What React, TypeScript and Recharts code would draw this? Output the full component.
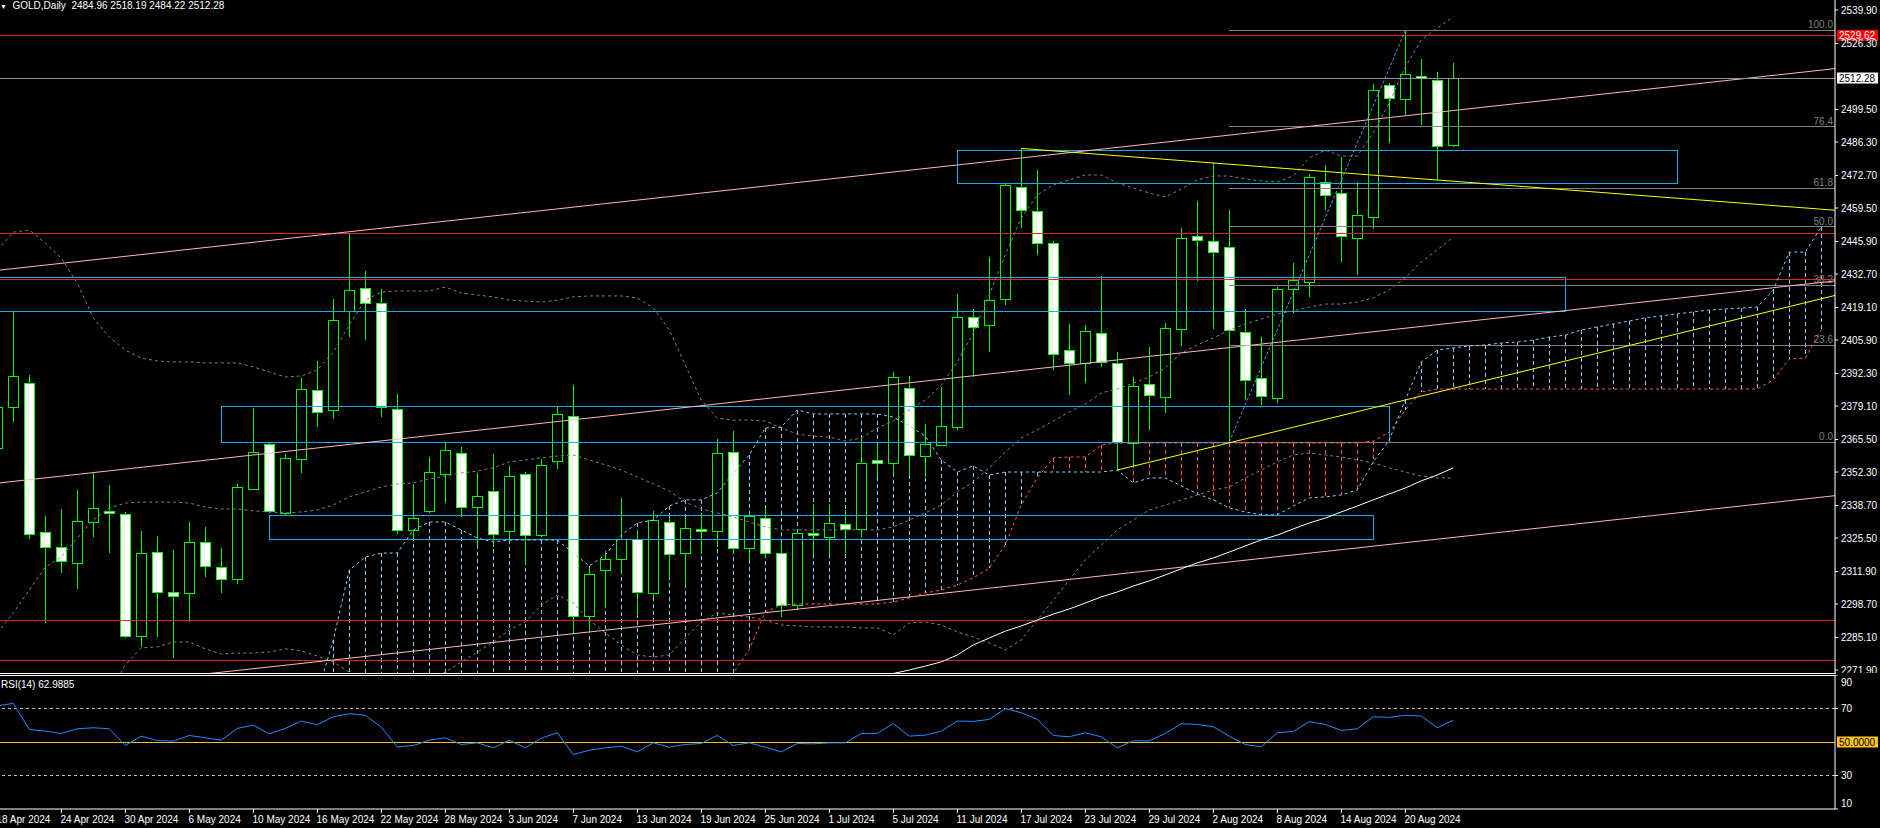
import React from "react";
import {
  ComposedChart,
  Bar,
  Line,
  XAxis,
  YAxis,
  ReferenceLine,
  ReferenceArea,
} from "recharts";

// ---- data (bar index 0 = 19 Apr 2024, first bar is 18 Apr = -1) ----
const FIRST_BAR = -1;
const LAST_BAR = 113; // cloud runs 26 bars ahead of the last candle

const opens = [
  2362.0, 2378.7, 2388.4, 2327.9, 2321.8, 2315.4, 2332.0, 2336.5, 2335.2, 2285.7,
  2319.8, 2303.6, 2303.2, 2323.9, 2313.7, 2308.9, 2345.4, 2363.7, 2335.7, 2357.6,
  2385.6, 2377.5, 2417.7, 2427.0, 2420.9, 2377.9, 2328.7, 2336.5, 2351.5, 2360.0,
  2338.1, 2344.6, 2328.3, 2351.5, 2326.7, 2356.8, 2375.0, 2293.8, 2312.5, 2316.9,
  2325.1, 2303.2, 2332.0, 2319.4, 2329.2, 2328.3, 2360.4, 2321.4, 2333.6, 2319.4,
  2298.3, 2327.5, 2325.9, 2331.2, 2329.2, 2357.2, 2356.0, 2386.4, 2358.8, 2363.3,
  2370.6, 2415.2, 2412.0, 2422.5, 2468.0, 2458.3, 2445.3, 2401.9, 2396.6, 2408.7,
  2396.6, 2364.1, 2388.0, 2382.8, 2410.4, 2448.1, 2446.1, 2443.7, 2409.2, 2390.5,
  2382.4, 2426.6, 2429.5, 2470.1, 2465.6, 2447.3, 2455.9, 2509.4, 2503.8, 2513.1,
  2511.5, 2484.96,
];
const highs = [
  2388.0, 2417.3, 2391.5, 2334.4, 2337.3, 2345.0, 2352.3, 2347.0, 2336.0, 2328.3,
  2326.3, 2320.6, 2332.0, 2329.9, 2321.4, 2347.4, 2378.3, 2364.0, 2359.6, 2390.5,
  2397.4, 2422.5, 2449.4, 2433.9, 2426.6, 2384.0, 2347.4, 2358.4, 2364.1, 2362.4,
  2351.9, 2359.6, 2354.8, 2352.3, 2357.6, 2378.7, 2387.6, 2313.7, 2320.2, 2341.8,
  2328.8, 2336.5, 2334.0, 2333.6, 2335.7, 2365.7, 2368.9, 2335.7, 2338.1, 2323.9,
  2328.0, 2339.3, 2339.3, 2336.9, 2366.1, 2363.7, 2392.9, 2391.3, 2371.8, 2386.8,
  2424.6, 2418.5, 2439.6, 2469.6, 2483.9, 2474.9, 2446.0, 2412.4, 2411.9, 2431.9,
  2401.0, 2390.9, 2403.1, 2412.8, 2451.4, 2462.3, 2477.8, 2458.7, 2418.5, 2407.1,
  2427.4, 2437.2, 2473.3, 2477.0, 2480.2, 2470.1, 2509.9, 2510.3, 2531.4, 2520.0,
  2514.7, 2518.19,
];
const lows = [
  2355.0, 2372.6, 2325.1, 2291.0, 2311.3, 2304.8, 2325.9, 2319.4, 2284.9, 2281.2,
  2285.3, 2276.8, 2291.4, 2309.7, 2303.2, 2306.8, 2345.0, 2335.7, 2334.9, 2351.9,
  2370.6, 2373.8, 2407.1, 2405.9, 2374.6, 2327.0, 2325.1, 2335.7, 2339.7, 2334.0,
  2322.7, 2321.9, 2324.3, 2315.0, 2325.9, 2353.5, 2286.9, 2287.0, 2297.5, 2311.3,
  2294.2, 2301.1, 2309.3, 2306.4, 2319.0, 2321.9, 2319.4, 2316.6, 2317.8, 2293.4,
  2296.3, 2318.6, 2318.6, 2319.4, 2325.9, 2350.3, 2351.9, 2350.3, 2350.3, 2363.0,
  2369.5, 2390.9, 2401.0, 2420.1, 2451.4, 2440.4, 2393.7, 2383.6, 2388.4, 2395.0,
  2353.1, 2354.3, 2369.4, 2376.3, 2403.5, 2429.9, 2410.4, 2364.5, 2381.5, 2379.5,
  2380.3, 2416.9, 2423.4, 2458.7, 2437.6, 2432.3, 2451.0, 2485.9, 2497.3, 2493.2,
  2470.9, 2484.22,
];
const closes = [
  2378.7, 2391.3, 2327.1, 2321.8, 2316.2, 2332.4, 2337.7, 2335.7, 2285.7, 2319.4,
  2303.6, 2301.9, 2323.9, 2314.1, 2308.9, 2346.2, 2360.4, 2336.5, 2358.0, 2386.0,
  2376.7, 2414.0, 2426.2, 2420.9, 2378.7, 2328.7, 2333.6, 2352.3, 2361.2, 2338.1,
  2342.6, 2327.1, 2350.7, 2326.7, 2355.1, 2375.9, 2293.8, 2310.9, 2316.9, 2325.1,
  2303.6, 2332.8, 2319.0, 2329.6, 2328.4, 2360.0, 2321.4, 2334.4, 2319.4, 2298.3,
  2327.5, 2326.7, 2331.6, 2329.2, 2356.0, 2356.0, 2390.9, 2359.2, 2363.7, 2371.0,
  2415.2, 2411.2, 2422.1, 2468.8, 2458.7, 2445.3, 2400.2, 2396.6, 2409.6, 2397.0,
  2364.5, 2387.2, 2383.6, 2410.8, 2447.3, 2446.5, 2441.6, 2410.0, 2389.7, 2383.2,
  2426.6, 2430.3, 2472.1, 2464.8, 2448.1, 2456.7, 2507.4, 2504.2, 2513.9, 2512.3,
  2484.7, 2512.28,
];

const bbUpper = [
  2442.5, 2449.7, 2450.6, 2445.3, 2439.2, 2429.0, 2414.9, 2407.1, 2401.8, 2398.6,
  2397.4, 2397.0, 2397.0, 2396.6, 2396.6, 2396.6, 2395.0, 2392.9, 2390.9, 2391.3,
  2393.7, 2401.0, 2412.0, 2422.1, 2425.4, 2425.8, 2425.8, 2425.8, 2427.4, 2425.0,
  2424.2, 2423.4, 2422.1, 2421.7, 2421.3, 2422.1, 2423.4, 2423.8, 2423.8, 2423.8,
  2423.0, 2418.9, 2410.0, 2395.8, 2381.5, 2374.2, 2373.4, 2373.4, 2373.0, 2370.2,
  2367.7, 2366.9, 2366.5, 2364.9, 2366.1, 2370.2, 2373.0, 2377.5, 2381.5, 2387.6,
  2397.0, 2408.8, 2424.2, 2440.4, 2455.4, 2464.8, 2468.9, 2470.9, 2472.9, 2472.9,
  2469.7, 2467.6, 2465.6, 2464.0, 2467.2, 2470.9, 2472.5, 2472.5, 2471.3, 2470.5,
  2470.1, 2472.5, 2479.8, 2483.0, 2480.6, 2480.6, 2490.0, 2502.1, 2516.8, 2527.7,
  2532.6, 2537.1,
];
const bbMiddle = [
  2287.0, 2295.1, 2304.4, 2313.7, 2317.8, 2325.5, 2332.8, 2337.7, 2339.7, 2340.1,
  2340.1, 2340.1, 2339.7, 2338.1, 2337.3, 2337.3, 2336.5, 2336.1, 2335.7, 2336.1,
  2336.9, 2338.9, 2342.2, 2344.2, 2346.2, 2347.5, 2347.9, 2349.5, 2350.7, 2351.9,
  2352.7, 2354.0, 2356.4, 2357.2, 2358.0, 2358.8, 2359.2, 2357.2, 2355.2, 2353.1,
  2350.3, 2347.5, 2344.6, 2340.1, 2337.3, 2335.7, 2334.1, 2332.0, 2330.0, 2328.8,
  2328.8, 2328.8, 2328.8, 2328.8, 2328.8, 2328.8, 2330.0, 2332.8, 2335.7, 2338.9,
  2344.2, 2348.3, 2354.0, 2360.4, 2366.1, 2369.4, 2373.0, 2376.7, 2379.9, 2384.4,
  2386.0, 2388.4, 2390.9, 2394.5, 2400.6, 2403.9, 2406.7, 2410.0, 2412.4, 2414.4,
  2416.5, 2417.7, 2419.3, 2420.5, 2420.5, 2421.3, 2423.0, 2426.2, 2431.1, 2437.6,
  2442.5, 2447.7,
];
const bbLower = [
  null, null, null, null, null, null, null, 2262.0, 2274.0, 2280.9,
  2281.3, 2283.3, 2283.3, 2280.5, 2278.4, 2278.8, 2278.8, 2279.2, 2280.5, 2279.7,
  2277.6, 2275.2, 2271.1, 2266.0, 2264.0, 2262.0, 2263.0, 2267.0, 2271.1, 2275.2,
  2279.2, 2283.3, 2288.2, 2291.4, 2298.3, 2302.4, 2299.1, 2292.2, 2287.0, 2282.1,
  2278.0, 2277.2, 2278.0, 2284.9, 2291.4, 2295.1, 2294.2, 2293.4, 2292.2, 2290.2,
  2289.8, 2289.4, 2289.4, 2289.4, 2289.0, 2289.0, 2286.2, 2291.0, 2291.4, 2290.2,
  2287.4, 2285.3, 2282.9, 2280.1, 2284.1, 2292.2, 2300.3, 2308.5, 2316.6, 2322.7,
  2328.8, 2332.8, 2336.9, 2338.9, 2341.0, 2343.0, 2345.0, 2346.2, 2349.9, 2353.1,
  2356.4, 2359.2, 2360.0, 2359.2, 2358.4, 2357.2, 2356.0, 2354.0, 2352.3, 2350.7,
  2349.9, 2349.9,
];

// Ichimoku spans, from bar 19 to bar 113
const CLOUD_FIRST = 19;
const spanA = [
  2262.0,
  2284.1, 2312.5, 2317.8, 2319.4, 2319.4, 2328.8, 2332.0, 2332.0, 2328.8, 2325.5,
  2323.9, 2324.7, 2324.7, 2324.7, 2324.7, 2319.4, 2314.2, 2318.6, 2326.7, 2331.6,
  2332.8, 2338.5, 2341.0, 2341.0, 2343.8, 2351.9, 2359.2, 2370.2, 2370.6, 2377.5,
  2375.9, 2375.9, 2375.9, 2375.9, 2375.9, 2374.6, 2371.0, 2366.9, 2357.2, 2352.3,
  2354.8, 2351.1, 2352.3, 2352.3, 2352.3, 2352.3, 2352.3, 2352.3, 2352.3, 2353.1,
  2347.9, 2349.9, 2349.9, 2346.7, 2343.4, 2341.0, 2337.7, 2336.1, 2334.9, 2334.9,
  2338.5, 2341.8, 2342.2, 2343.0, 2345.0, 2356.4, 2365.3, 2381.5, 2397.0, 2401.8,
  2402.7, 2403.5, 2403.9, 2404.7, 2405.1, 2405.9, 2407.1, 2407.9, 2410.0, 2411.2,
  2412.4, 2413.6, 2414.9, 2415.7, 2416.5, 2417.3, 2418.1, 2418.5, 2418.9, 2419.3,
  2426.2, 2441.6, 2441.6, 2451.8,
];
const spanB = [
  2258, 2258, 2258, 2258, 2258, 2258, 2258, 2258, 2258, 2258, 2258, 2258, 2258,
  2258, 2258, 2258, 2258, 2258, 2258, 2258, 2258, 2258, 2258, 2258, 2258, 2258,
  2270.7, 2280.1, 2295.5, 2298.3, 2298.7, 2298.7, 2298.7, 2298.7, 2298.7, 2298.7,
  2299.5, 2301.2, 2303.2, 2304.4, 2306.4, 2309.3, 2313.3, 2322.7, 2338.9, 2349.9,
  2358.0, 2358.4, 2358.4, 2363.3, 2364.1, 2364.1, 2364.1, 2364.1, 2364.1, 2364.1,
  2364.1, 2364.1, 2364.1, 2364.1, 2364.1, 2364.1, 2364.1, 2364.1, 2364.1, 2364.1,
  2364.9, 2368.5, 2377.5, 2384.8, 2386.0, 2386.0, 2386.0, 2386.0, 2386.0, 2386.0,
  2386.0, 2386.0, 2386.0, 2386.0, 2386.0, 2386.0, 2386.0, 2386.0, 2386.0, 2386.0,
  2386.0, 2386.0, 2386.0, 2386.0, 2386.0, 2389.7, 2398.2, 2398.6, 2410.0,
];

// slow moving average (white), from bar 54
const MA_FIRST = 54;
const maWhite = [
  2267.0, 2270.5, 2271.9, 2273.5, 2275.2, 2278.0, 2282.1, 2284.9, 2287.7, 2289.8,
  2292.2, 2294.6, 2296.7, 2299.1, 2301.6, 2303.6, 2306.0, 2308.1, 2310.5, 2313.0,
  2315.4, 2317.4, 2319.8, 2322.3, 2324.7, 2326.7, 2329.2, 2331.6, 2333.6, 2336.1,
  2338.5, 2341.0, 2343.4, 2345.8, 2348.7, 2351.1, 2354.0,
];

const rsi14 = [
  71.5, 73.1, 57.5, 56.5, 55.1, 57.9, 58.5, 57.9, 47.9, 53.5,
  50.9, 50.5, 53.9, 52.5, 51.1, 58.1, 60.1, 54.9, 58.1, 62.5,
  60.3, 65.1, 66.9, 65.9, 58.9, 47.1, 47.9, 51.1, 52.5, 48.5,
  49.5, 46.5, 51.1, 46.5, 52.3, 55.5, 42.5, 45.1, 46.5, 47.5,
  44.1, 49.5, 46.9, 48.5, 49.1, 53.9, 47.9, 49.5, 46.9, 44.1,
  49.1, 48.9, 49.5, 49.5, 55.1, 55.1, 61.1, 53.5, 54.1, 56.5,
  62.5, 62.3, 63.5, 69.9, 67.5, 63.5, 53.9, 53.1, 55.5, 53.1,
  46.5, 50.7, 50.7, 55.1, 60.9, 60.5, 59.1, 53.5, 48.5, 47.1,
  55.5, 56.3, 62.1, 60.5, 56.9, 57.9, 65.1, 64.7, 65.9, 65.5,
  58.5, 62.99,
];

const priceTicks = [
  2539.9, 2526.3, 2499.5, 2486.3, 2472.7, 2459.5, 2445.9, 2432.7, 2419.1, 2405.9,
  2392.3, 2379.1, 2365.5, 2352.3, 2338.7, 2325.5, 2311.9, 2298.7, 2285.1, 2271.9,
];
const tickBars = [-1, 3, 7, 11, 15, 19, 23, 27, 31, 35, 39, 43, 47, 51, 55, 59, 63, 67, 71, 75, 79, 83, 87];
const tickLabels = [
  "18 Apr 2024", "24 Apr 2024", "30 Apr 2024", "6 May 2024", "10 May 2024", "16 May 2024",
  "22 May 2024", "28 May 2024", "3 Jun 2024", "7 Jun 2024", "13 Jun 2024", "19 Jun 2024",
  "25 Jun 2024", "1 Jul 2024", "5 Jul 2024", "11 Jul 2024", "17 Jul 2024", "23 Jul 2024",
  "29 Jul 2024", "2 Aug 2024", "8 Aug 2024", "14 Aug 2024", "20 Aug 2024",
];

const redLevels = [2529.62, 2449.2, 2430.3, 2292.1, 2275.9];
const BID = 2512.28;
const ASK_TAG = 2529.62;

const FIB_START = 76;
const fibLevels = [
  { label: "100.0", price: 2531.7 },
  { label: "76.4", price: 2492.4 },
  { label: "61.8", price: 2467.5 },
  { label: "50.0", price: 2451.8 },
  { label: "38.2", price: 2428.1 },
  { label: "23.6", price: 2403.7 },
  { label: "0.0", price: 2364.4 },
];

const zones = [
  { k1: 59, k2: 104, top: 2483.0, bottom: 2469.5 },
  { k1: -5, k2: 97, top: 2431.1, bottom: 2417.5 },
  { k1: 13, k2: 86, top: 2378.8, bottom: 2364.4 },
  { k1: 16, k2: 85, top: 2334.7, bottom: 2325.0 },
];

const pinkLines = [
  { k1: -0.83, p1: 2434.3, k2: 113.86, p2: 2516.1 },
  { k1: -0.83, p1: 2347.9, k2: 113.86, p2: 2429.9 },
  { k1: -0.83, p1: 2261.2, k2: 113.86, p2: 2342.7 },
];
const yellowLines = [
  { k1: 63, p1: 2483.7, k2: 113.86, p2: 2458.6 },
  { k1: 69, p1: 2353.1, k2: 113.86, p2: 2424.0 },
];
const fibDiagonal = { k1: 76, p1: 2364.5, k2: 87, p2: 2531.4 };

// ---- look ----
const FONT = "'Liberation Sans', Arial, sans-serif";
const X_DOMAIN: [number, number] = [-0.83, 113.86];
const P_DOMAIN: [number, number] = [2270.7, 2543.96];
const W = 1880;
const MAIN_H = 673;
const AXIS_W = 45;
const WICK = "#00ff00";
const BB = "#808080";
const SPAN_A = "#87cefa";
const SPAN_B = "#ff5a4a";
const RED = "#e3261c";
const PINK = "#ffb6c1";
const ZONE = "#10b0f0";
const FIB = "#808080";
const GOLDEN = "#ffc21a";
const CRISP = "crispEdges";

const rows: any[] = [];
for (let k = FIRST_BAR; k <= LAST_BAR; k++) {
  const i = k - FIRST_BAR;
  const row: any = { k };
  if (i < opens.length) {
    row.o = opens[i];
    row.h = highs[i];
    row.l = lows[i];
    row.c = closes[i];
    row.hl = [lows[i], highs[i]];
    row.bbU = bbUpper[i];
    row.bbM = bbMiddle[i];
    row.bbL = bbLower[i];
    row.rsi = rsi14[i];
  }
  const ci = k - CLOUD_FIRST;
  if (ci >= 0 && ci < spanA.length) {
    const a = spanA[ci];
    const b = spanB[ci];
    row.spanA = a;
    row.spanB = b;
    row.cloud = [Math.min(a, b), Math.max(a, b)];
    row.cloudUp = a >= b;
  }
  const mi = k - MA_FIRST;
  if (mi >= 0 && mi < maWhite.length) row.ma = maWhite[mi];
  rows.push(row);
}

function Candle(props: any) {
  const { x, y, width, height, payload } = props;
  if (!payload || payload.o == null) return null;
  const { o, h, l, c } = payload;
  const top = Math.min(y, y + height);
  const span = Math.abs(height);
  const per = h > l ? span / (h - l) : 0;
  const py = (v: number) => top + (h - v) * per;
  const cx = Math.round(x + width / 2) + 0.5;
  const bTop = Math.round(py(Math.max(o, c))) + 0.5;
  const bBot = Math.round(py(Math.min(o, c))) + 0.5;
  const up = c >= o;
  return (
    <g shapeRendering={CRISP}>
      <line x1={cx} x2={cx} y1={top} y2={top + span} stroke={WICK} strokeWidth={1} />
      <rect
        x={cx - 5}
        y={bTop}
        width={10}
        height={Math.max(bBot - bTop, 1)}
        fill={up ? "#000000" : "#ffffff"}
        stroke={WICK}
        strokeWidth={1}
      />
    </g>
  );
}

function CloudHatch(props: any) {
  const { x, y, width, height, payload } = props;
  if (!payload || payload.cloud == null) return null;
  const cx = Math.round(x + width / 2) + 0.5;
  const top = Math.min(y, y + height);
  return (
    <line
      x1={cx}
      x2={cx}
      y1={top}
      y2={top + Math.abs(height)}
      stroke={payload.cloudUp ? SPAN_A : SPAN_B}
      strokeDasharray="4 3"
      strokeWidth={1}
      shapeRendering={CRISP}
    />
  );
}

function Tag(props: any) {
  const { viewBox, text, bg, fg } = props;
  if (!viewBox) return null;
  const x = viewBox.x + viewBox.width + 2;
  const y = viewBox.y;
  return (
    <g>
      <rect x={x} y={y - 5.5} width={41} height={11} fill={bg} />
      <text x={x + 2} y={y} dy="0.36em" fill={fg} fontSize={10} fontFamily={FONT}>
        {text}
      </text>
    </g>
  );
}

function FibLabel(props: any) {
  const { viewBox, text } = props;
  if (!viewBox) return null;
  return (
    <text
      x={viewBox.x + viewBox.width - 2}
      y={viewBox.y - 2}
      textAnchor="end"
      fill={FIB}
      fontSize={10}
      fontFamily={FONT}
    >
      {text}
    </text>
  );
}

function DateTick(props: any) {
  const { x, y, payload } = props;
  const idx = tickBars.indexOf(payload.value);
  if (idx < 0) return null;
  const tx = Math.round(x) + 0.5;
  return (
    <g>
      <line x1={tx} x2={tx} y1={y} y2={y + 4} stroke="#ffffff" />
      <text x={tx - 1} y={y + 14} fill="#ffffff" fontSize={10} fontFamily={FONT}>
        {tickLabels[idx]}
      </text>
    </g>
  );
}

function RsiTick(props: any) {
  const { x, y, payload } = props;
  const v = payload.value;
  const shift = v === 90 ? 7 : v === 10 ? -6 : 0;
  return (
    <text x={x} y={y + shift} dy="0.36em" fill="#ffffff" fontSize={10} fontFamily={FONT}>
      {v}
    </text>
  );
}

const mainYAxisHidden = (
  <YAxis
    orientation="right"
    type="number"
    domain={P_DOMAIN}
    allowDataOverflow
    width={AXIS_W}
    tick={false}
    tickLine={false}
    axisLine={false}
  />
);
const mainXAxis = (
  <XAxis type="number" dataKey="k" domain={X_DOMAIN} allowDataOverflow hide />
);
const layer: React.CSSProperties = { position: "absolute", left: 0, top: 0 };
const noMargin = { top: 0, right: 0, bottom: 0, left: 0 };

export default function App() {
  return (
    <div
      style={{
        position: "absolute",
        left: 0,
        top: 0,
        width: W,
        height: 828,
        background: "#000000",
        overflow: "hidden",
        fontFamily: FONT,
      }}
    >
      {/* cloud hatching */}
      <div style={layer}>
        <ComposedChart width={W} height={MAIN_H} data={rows} margin={noMargin}>
          {mainXAxis}
          {mainYAxisHidden}
          <Bar dataKey="cloud" barSize={1} shape={CloudHatch} isAnimationActive={false} />
        </ComposedChart>
      </div>

      {/* candles */}
      <div style={layer}>
        <ComposedChart width={W} height={MAIN_H} data={rows} margin={noMargin}>
          {mainXAxis}
          {mainYAxisHidden}
          <Bar dataKey="hl" barSize={11} shape={Candle} isAnimationActive={false} />
        </ComposedChart>
      </div>

      {/* indicators, objects, price axis */}
      <div style={layer}>
        <ComposedChart width={W} height={MAIN_H} data={rows} margin={noMargin}>
          {mainXAxis}
          <YAxis
            orientation="right"
            type="number"
            domain={P_DOMAIN}
            allowDataOverflow
            ticks={priceTicks}
            interval={0}
            width={AXIS_W}
            axisLine={{ stroke: "#ffffff" }}
            tickLine={{ stroke: "#ffffff" }}
            tickSize={3}
            tickMargin={3}
            tick={{ fill: "#ffffff", fontSize: 10, fontFamily: FONT }}
            tickFormatter={(v: number) => v.toFixed(2)}
          />

          {fibLevels.map((f) => (
            <ReferenceLine
              key={"f" + f.label}
              segment={[
                { x: FIB_START, y: f.price },
                { x: X_DOMAIN[1], y: f.price },
              ]}
              stroke={FIB}
              strokeWidth={1}
              shapeRendering={CRISP}
              ifOverflow="hidden"
              label={<FibLabel text={f.label} />}
            />
          ))}

          {redLevels.map((p) => (
            <ReferenceLine key={"r" + p} y={p} stroke={RED} strokeWidth={1} shapeRendering={CRISP} />
          ))}

          {zones.map((z, i) => (
            <ReferenceArea
              key={"z" + i}
              x1={z.k1}
              x2={z.k2}
              y1={z.bottom}
              y2={z.top}
              fill="none"
              fillOpacity={0}
              stroke={ZONE}
              strokeWidth={1}
              shapeRendering={CRISP}
              ifOverflow="hidden"
            />
          ))}

          {pinkLines.map((t, i) => (
            <ReferenceLine
              key={"p" + i}
              segment={[
                { x: t.k1, y: t.p1 },
                { x: t.k2, y: t.p2 },
              ]}
              stroke={PINK}
              strokeWidth={1}
              ifOverflow="hidden"
            />
          ))}

          <Line dataKey="bbU" stroke={BB} strokeDasharray="3 3" dot={false} activeDot={false} isAnimationActive={false} />
          <Line dataKey="bbM" stroke={BB} strokeDasharray="3 3" dot={false} activeDot={false} isAnimationActive={false} />
          <Line dataKey="bbL" stroke={BB} strokeDasharray="3 3" dot={false} activeDot={false} isAnimationActive={false} />
          <Line dataKey="spanB" stroke={SPAN_B} strokeDasharray="3 3" dot={false} activeDot={false} isAnimationActive={false} />
          <Line dataKey="spanA" stroke={SPAN_A} strokeDasharray="3 3" dot={false} activeDot={false} isAnimationActive={false} />
          <Line dataKey="ma" stroke="#ffffff" strokeWidth={1} dot={false} activeDot={false} isAnimationActive={false} />

          {yellowLines.map((t, i) => (
            <ReferenceLine
              key={"y" + i}
              segment={[
                { x: t.k1, y: t.p1 },
                { x: t.k2, y: t.p2 },
              ]}
              stroke="#ffff00"
              strokeWidth={1}
              ifOverflow="hidden"
            />
          ))}
          <ReferenceLine
            segment={[
              { x: fibDiagonal.k1, y: fibDiagonal.p1 },
              { x: fibDiagonal.k2, y: fibDiagonal.p2 },
            ]}
            stroke="#5a8cf0"
            strokeDasharray="3 2"
            ifOverflow="hidden"
          />

          <ReferenceLine
            y={BID}
            stroke="#8a96a3"
            strokeWidth={1}
            shapeRendering={CRISP}
            label={<Tag text={BID.toFixed(2)} bg="#ffffff" fg="#000000" />}
          />
          <ReferenceLine
            y={ASK_TAG}
            stroke={RED}
            strokeWidth={0}
            label={<Tag text={ASK_TAG.toFixed(2)} bg="#ff0000" fg="#ffffff" />}
          />
        </ComposedChart>
      </div>

      {/* panel separators */}
      <div style={{ position: "absolute", left: 0, top: 673, width: 1836, height: 1, background: "#ffffff" }} />
      <div style={{ position: "absolute", left: 0, top: 675, width: 1836, height: 1, background: "#ffffff" }} />

      {/* RSI panel + time axis */}
      <div style={{ position: "absolute", left: 0, top: 675 }}>
        <ComposedChart width={W} height={153} data={rows} margin={noMargin}>
          <XAxis
            type="number"
            dataKey="k"
            domain={X_DOMAIN}
            allowDataOverflow
            ticks={tickBars}
            interval={0}
            height={19}
            axisLine={{ stroke: "#ffffff" }}
            tickLine={false}
            tickSize={0}
            tickMargin={0}
            tick={<DateTick />}
          />
          <YAxis
            orientation="right"
            type="number"
            domain={[10, 90]}
            allowDataOverflow
            ticks={[90, 70, 30, 10]}
            interval={0}
            width={AXIS_W}
            axisLine={{ stroke: "#ffffff" }}
            tickLine={{ stroke: "#ffffff" }}
            tickSize={3}
            tickMargin={3}
            tick={<RsiTick />}
          />
          <ReferenceLine y={70} stroke="#c0c0c0" strokeDasharray="3 3" shapeRendering={CRISP} />
          <ReferenceLine y={30} stroke="#c0c0c0" strokeDasharray="3 3" shapeRendering={CRISP} />
          <ReferenceLine
            y={50}
            stroke={GOLDEN}
            strokeWidth={1}
            shapeRendering={CRISP}
            label={<Tag text="50.0000" bg={GOLDEN} fg="#000000" />}
          />
          <Line dataKey="rsi" stroke="#1e90ff" strokeWidth={1} dot={false} activeDot={false} isAnimationActive={false} />
        </ComposedChart>
      </div>

      {/* headers */}
      <div
        style={{
          position: "absolute",
          left: 0,
          top: 0,
          color: "#ffffff",
          fontSize: 10,
          lineHeight: "12px",
          whiteSpace: "pre",
        }}
      >
        <span style={{ fontSize: 7 }}>▼</span>
        {"  GOLD,Daily  2484.96 2518.19 2484.22 2512.28"}
      </div>
      <div
        style={{
          position: "absolute",
          left: 1,
          top: 679,
          color: "#ffffff",
          fontSize: 10,
          lineHeight: "12px",
          whiteSpace: "pre",
        }}
      >
        RSI(14) 62.9885
      </div>
    </div>
  );
}
